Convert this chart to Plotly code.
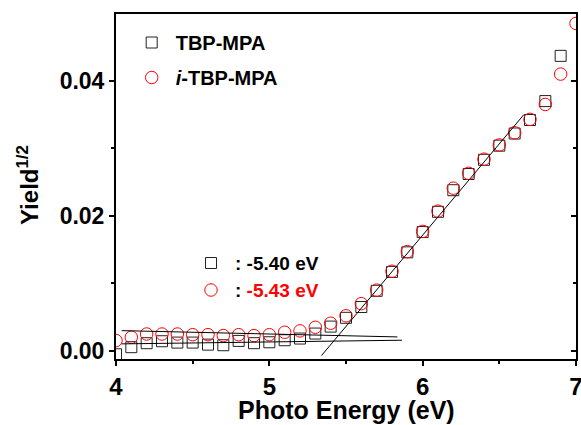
import plotly.graph_objects as go

# Photon energy grid (eV)
energy = [4.0, 4.1, 4.2, 4.3, 4.4, 4.5, 4.6, 4.7, 4.8, 4.9,
          5.0, 5.1, 5.2, 5.3, 5.4, 5.5, 5.6, 5.7, 5.8, 5.9,
          6.0, 6.1, 6.2, 6.3, 6.4, 6.5, 6.6, 6.7, 6.8, 6.9, 7.0]

# Square root of photoemission yield
yield_tbp = [-0.0005, 0.00055, 0.00114, 0.00143, 0.00123, 0.00123, 0.00093, 0.00084, 0.00148, 0.00114,
             0.00128, 0.00158, 0.00183, 0.00257, 0.0036, 0.0049, 0.0065, 0.0089, 0.0117, 0.0146,
             0.0176, 0.0206, 0.0238, 0.0262, 0.0283, 0.0304, 0.0322, 0.0342, 0.0370, 0.0437, None]
yield_itbp = [0.00153, 0.00202, 0.0025, 0.0025, 0.0025, 0.0024, 0.0024, 0.00227, 0.0024, 0.00227,
              0.0024, 0.00276, 0.00296, 0.0035, 0.0041, 0.0052, 0.0070, 0.0090, 0.0118, 0.0147,
              0.0177, 0.0207, 0.0241, 0.0263, 0.0284, 0.0305, 0.0323, 0.0343, 0.0365, 0.0410, 0.0485]

# Linear fits used for the onset (threshold) estimate
onset_fit_x = [5.34, 6.66]
onset_fit_y = [-0.0007, 0.0350]
base_tbp_x = [4.037, 5.865]
base_tbp_y = [0.00104, 0.00158]
base_itbp_x = [4.037, 5.835]
base_itbp_y = [0.0030, 0.00207]

series_names = ["TBP-MPA", "<i>i</i>-TBP-MPA"]
onset_labels = ["-5.40 eV", "-5.43 eV"]

x_ticks = [4, 5, 6, 7]
y_ticks = [0.00, 0.02, 0.04]
y_tick_text = ["0.00", "0.02", "0.04"]

FONT = "Liberation Sans"
RED = "#ff0000"

W, H = 581, 425
L, R, T, B = 116, 5, 14, 66
PW, PH = W - L - R, H - T - B


def px(xp):
    return (xp - L) / PW


def py(yp):
    return (H - B - yp) / PH


fig = go.Figure()

line_style = dict(color="black", width=1)
fig.add_trace(go.Scatter(x=onset_fit_x, y=onset_fit_y, mode="lines", line=line_style,
                         showlegend=False, hoverinfo="skip", yaxis="y2"))
fig.add_trace(go.Scatter(x=base_tbp_x, y=base_tbp_y, mode="lines", line=line_style,
                         showlegend=False, hoverinfo="skip", yaxis="y2"))
fig.add_trace(go.Scatter(x=base_itbp_x, y=base_itbp_y, mode="lines", line=line_style,
                         showlegend=False, hoverinfo="skip", yaxis="y2"))

fig.add_trace(go.Scatter(
    x=energy, y=yield_tbp, mode="markers", name=series_names[0], legendgroup="a",
    marker=dict(symbol="square-open", size=11, color="#222222", line=dict(width=1)),
))
fig.add_trace(go.Scatter(
    x=energy, y=yield_itbp, mode="markers", name=series_names[1], legendgroup="b",
    marker=dict(symbol="circle-open", size=12.5, color=RED, line=dict(width=1)),
))

y_range = [-0.0012, 0.0499]

fig.update_layout(
    width=W, height=H,
    margin=dict(l=L, r=R, t=T, b=B, autoexpand=False),
    paper_bgcolor="white", plot_bgcolor="white",
    font=dict(family=FONT, color="black", weight="bold"),
    legend=dict(x=px(127.7), y=py(23), xanchor="left", yanchor="top",
                bgcolor="rgba(0,0,0,0)", font=dict(size=20, family=FONT, weight="bold"),
                tracegroupgap=6, itemwidth=38, itemclick=False),
    xaxis=dict(range=[4, 7], tickvals=x_ticks, ticks="outside", ticklen=5, tickwidth=1.5,
               tickcolor="black", showline=True, linewidth=2, linecolor="black", mirror=True,
               showgrid=False, zeroline=False, automargin=False, ticklabeloverflow="allow",
               tickfont=dict(size=24, family=FONT, weight="bold"),
               minor=dict(tickvals=[4.5, 5.5, 6.5], ticks="outside", ticklen=3,
                          tickwidth=1.5, tickcolor="black")),
    yaxis=dict(range=y_range, tickvals=y_ticks, ticktext=y_tick_text, ticks="outside",
               ticklen=5, tickwidth=1.5, tickcolor="black", showline=True, linewidth=2,
               linecolor="black", mirror=True, showgrid=False, zeroline=False,
               automargin=False,
               tickfont=dict(size=23, family=FONT, weight="bold"),
               minor=dict(tickvals=[0.01, 0.03], ticks="outside", ticklen=3,
                          tickwidth=1.5, tickcolor="black")),
    yaxis2=dict(range=y_range, overlaying="y", side="right", anchor="x",
                tickvals=y_ticks, ticks="inside", ticklen=5, tickwidth=1.5, tickcolor="black",
                showticklabels=False, showline=False, showgrid=False, zeroline=False,
                automargin=False,
                minor=dict(tickvals=[0.01, 0.03], ticks="inside", ticklen=3,
                           tickwidth=1.5, tickcolor="black")),
)

# Axis titles
fig.add_annotation(text="Yield<sup>1/2</sup>", xref="paper", yref="paper",
                   x=px(28), y=py(185), xanchor="center", yanchor="middle",
                   textangle=-90, showarrow=False,
                   font=dict(size=24, family=FONT, weight="bold"))
fig.add_annotation(text="Photo Energy (eV)", xref="paper", yref="paper",
                   x=px(346), y=py(410), xanchor="center", yanchor="middle",
                   showarrow=False, font=dict(size=25, family=FONT, weight="bold"))

# Key for the onset energies
fig.add_shape(type="rect", xref="paper", yref="paper",
              x0=px(205.5), x1=px(216.5), y0=py(268.5), y1=py(257.5),
              line=dict(color="#222222", width=1))
fig.add_shape(type="circle", xref="paper", yref="paper",
              x0=px(204.75), x1=px(217.25), y0=py(296.25), y1=py(283.75),
              line=dict(color=RED, width=1))
fig.add_annotation(text=": " + onset_labels[0], xref="paper", yref="paper",
                   x=px(233), y=py(263), xanchor="left", yanchor="middle", showarrow=False,
                   font=dict(size=19, family=FONT, weight="bold", color="black"))
fig.add_annotation(text=": <span style='color:%s'>%s</span>" % (RED, onset_labels[1]),
                   xref="paper", yref="paper",
                   x=px(233), y=py(290), xanchor="left", yanchor="middle", showarrow=False,
                   font=dict(size=19, family=FONT, weight="bold", color="black"))

fig.write_html("out.html")
